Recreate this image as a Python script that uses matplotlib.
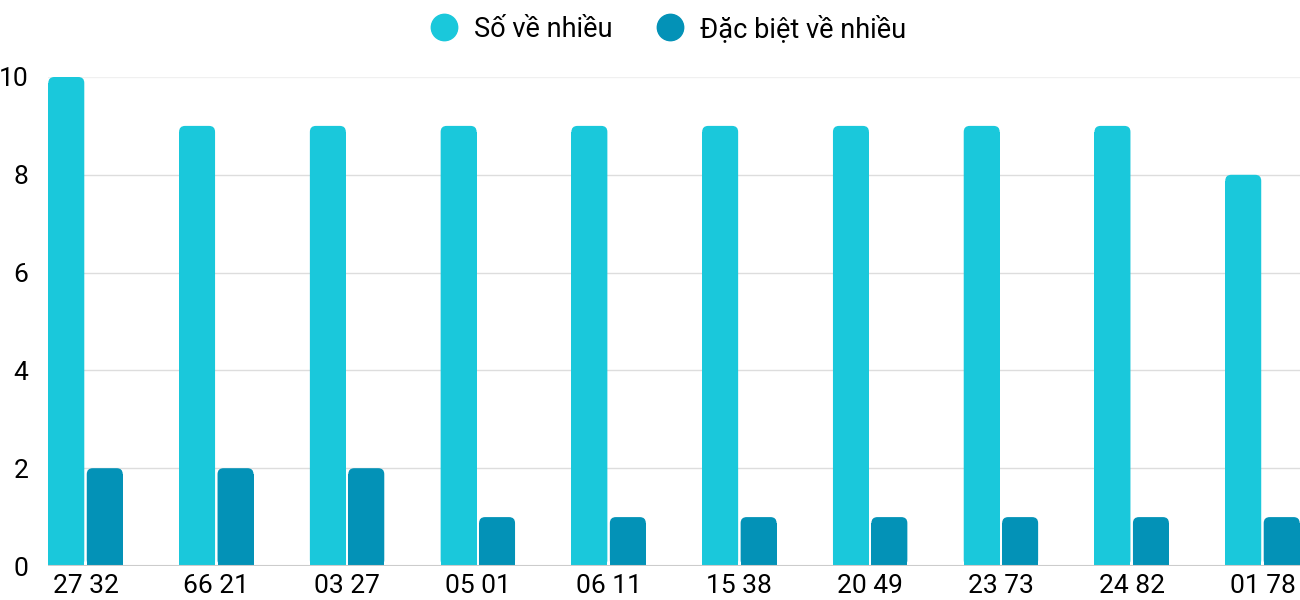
import matplotlib
matplotlib.use("Agg")
import matplotlib.pyplot as plt
from matplotlib.patches import FancyBboxPatch
from matplotlib.lines import Line2D

categories = ["27 32", "66 21", "03 27", "05 01", "06 11", "15 38", "20 49", "23 73", "24 82", "01 78"]
so_ve_nhieu = [10, 9, 9, 9, 9, 9, 9, 9, 9, 8]
dac_biet_ve_nhieu = [2, 2, 2, 1, 1, 1, 1, 1, 1, 1]
series_names = ["Số về nhiều", "Đặc biệt về nhiều"]
y_ticks = [0, 2, 4, 6, 8, 10]

c_light = "#1AC8DB"
c_dark = "#0392B7"

plt.rcParams['font.family'] = ['Roboto', 'DejaVu Sans']

W, H = 1300, 600
fig = plt.figure(figsize=(W / 100, H / 100), dpi=100)
ax_l, ax_r, ax_b, ax_t = 48, 1300, 566, 77
ax = fig.add_axes([ax_l / W, 1 - ax_b / H, (ax_r - ax_l) / W, (ax_b - ax_t) / H])

xmin, xmax = -0.287, len(categories) - 1 + 0.287
ax.set_xlim(xmin, xmax)
ax.set_ylim(0, 10)

px_x = (ax_r - ax_l) / (xmax - xmin)
px_y = (ax_b - ax_t) / 10.0
r_px = 6.0
rx = r_px / px_x
aspect = (r_px / px_y) / rx

bw = 0.275
off = 0.147

def rounded_bars(xs, hs, color):
    bars = ax.bar(xs, hs, width=bw, color=color, linewidth=0, zorder=3)
    ry = rx * aspect
    for rect in bars:
        x0 = rect.get_x(); w = rect.get_width(); h = rect.get_height()
        rect.set_height(max(h - ry, 0))
        rect.set_clip_on(False)
        p = FancyBboxPatch((x0 + rx, ry), w - 2 * rx, h - 2 * ry,
                           boxstyle=f"round,pad={rx}",
                           mutation_aspect=aspect, facecolor=color, edgecolor='none',
                           zorder=3, clip_on=False)
        ax.add_patch(p)
    return bars

xs = list(range(len(categories)))
rounded_bars([x - off for x in xs], so_ve_nhieu, c_light)
rounded_bars([x + off for x in xs], dac_biet_ve_nhieu, c_dark)

ax.set_yticks(y_ticks)
ax.set_yticklabels([str(t) for t in y_ticks])
ax.set_xticks(xs)
ax.set_xticklabels(categories)
ax.tick_params(axis='y', length=0, pad=14, labelsize=19, labelcolor='#000000')
ax.tick_params(axis='x', length=0, pad=6, labelsize=19, labelcolor='#000000')

for t in y_ticks:
    if t == 0:
        continue
    col = '#f0f0f0' if t == 10 else '#dddddd'
    ax.axhline(t, color=col, linewidth=1, zorder=1)
ax.axhline(0, color='#cccccc', linewidth=1.5, zorder=4)

for s in ax.spines.values():
    s.set_visible(False)

handles = [Line2D([], [], marker='o', linestyle='none', markersize=19, color=c_light),
           Line2D([], [], marker='o', linestyle='none', markersize=19, color=c_dark)]
fig.legend(handles, series_names, loc='center', bbox_to_anchor=(667 / W, 1 - 29 / H),
           ncol=2, frameon=False, fontsize=19.5, handletextpad=0.5, columnspacing=1.55,
           handlelength=1.2)

fig.savefig("out.png", dpi=100)
